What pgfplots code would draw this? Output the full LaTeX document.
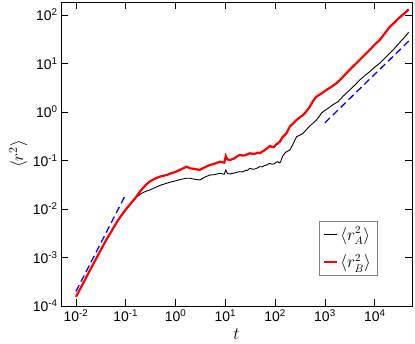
\documentclass[border=0pt]{standalone}
\usepackage{pgfplots}
\pgfplotsset{compat=1.18}
\usepackage{fontspec}
\setmainfont{Liberation Sans}

\begin{document}
\begin{tikzpicture}
\begin{axis}[
    scale only axis,
    width=351bp,
    height=304bp,
    xmode=log, ymode=log,
    log basis x=10, log basis y=10,
    xmin=0.005, xmax=56000,
    ymin=1e-4, ymax=185,
    xtick={0.01,0.1,1,10,100,1000,10000},
    ytick={1e-4,1e-3,1e-2,1e-1,1,10,100},
    xticklabel={10\textsuperscript{\pgfmathprintnumber[fixed,precision=0,assume math mode=true]{\tick}}},
    yticklabel={10\textsuperscript{\pgfmathprintnumber[fixed,precision=0,assume math mode=true]{\tick}}},
    tick label style={font=\fontsize{14}{16}\selectfont},
    major tick length=7bp,
    minor tick length=3.5bp,
    tick style={black, line width=0.8pt},
    axis line style={line width=0.8pt},
    xlabel={$t$},
    ylabel={$\langle r^2\rangle$},
    xlabel style={font=\fontsize{17}{19}\selectfont, at={(axis description cs:0.5,-0.094)}, anchor=center},
    ylabel style={font=\fontsize{17}{19}\selectfont, at={(axis description cs:-0.122,0.5)}, anchor=center},
    legend style={at={(0.9,0.1)}, anchor=south east, draw=gray,
        font=\fontsize{16}{18}\selectfont, inner sep=4bp, row sep=9bp},
    legend image code/.code={\draw[#1] (0bp,0bp) -- (13bp,0bp);},
    legend cell align=left,
]
% A
\addplot[black, line width=0.9pt] coordinates {
(0.01,1.55e-4) (0.015,3.4e-4) (0.02,6.0e-4) (0.03,1.3e-3) (0.04,2.25e-3)
(0.05,3.3e-3) (0.07,5.9e-3) (0.1,9.8e-3) (0.13,0.0135) (0.165,0.0175)
(0.2,0.0205) (0.25,0.023) (0.305,0.0247) (0.4,0.028) (0.5,0.031)
(0.66,0.0339) (0.8,0.036) (1.0,0.038) (1.3,0.041) (1.66,0.043)
(1.94,0.043) (2.4,0.041) (3.07,0.0396) (3.8,0.045) (4.88,0.0502)
(6,0.051) (7.74,0.0544) (9.5,0.052) (10.2,0.0637) (11,0.054)
(12.3,0.0527) (15,0.055) (17,0.057) (19.5,0.0588) (22,0.058) (25,0.062)
(28,0.063) (31,0.069) (35,0.066) (40,0.067) (45,0.071) (49,0.0745)
(55,0.074) (60,0.078) (70,0.082) (78,0.0874) (86,0.084) (95,0.085)
(105,0.092) (114,0.0944) (120,0.089) (128,0.092) (140,0.12) (155,0.14)
(169,0.152) (197,0.164) (230,0.22) (269,0.31) (310,0.33) (365,0.364)
(430,0.44) (500,0.52) (580,0.59) (676,0.684) (760,0.8) (850,0.95)
(1000,1.08) (1150,1.19) (1400,1.38) (1830,1.63) (2300,2.1) (3150,2.84)
(4000,3.6) (5000,4.57) (6300,5.6) (7940,6.8) (10000,8.4) (12600,10.1)
(16000,12.9) (20000,16.2) (25000,20.5) (31600,27) (38000,33) (48000,44)
};
\addlegendentry{$\langle r_A^2\rangle$}
% B
\addplot[red, line width=2.2pt] coordinates {
(0.01,1.55e-4) (0.015,3.4e-4) (0.02,6.0e-4) (0.03,1.3e-3) (0.04,2.25e-3)
(0.05,3.3e-3) (0.07,5.9e-3) (0.1,9.8e-3) (0.13,0.0135) (0.16,0.0175)
(0.2,0.024) (0.25,0.031) (0.3,0.0366) (0.4,0.043) (0.5,0.047)
(0.66,0.050) (0.8,0.054) (1.0,0.058) (1.3,0.066) (1.66,0.0745)
(1.94,0.069) (2.4,0.067) (3.07,0.0637) (3.8,0.072) (4.88,0.0807)
(6,0.085) (7.74,0.0944) (9.5,0.09) (10.2,0.124) (11,0.105)
(12.3,0.102) (15,0.11) (17,0.121) (19.5,0.13) (22,0.126) (25,0.128)
(28,0.135) (31,0.141) (35,0.137) (40,0.138) (45,0.145) (49,0.141)
(55,0.152) (60,0.16) (70,0.18) (78,0.199) (86,0.19) (95,0.19)
(105,0.215) (114,0.226) (124,0.244) (140,0.3) (169,0.364) (197,0.50)
(230,0.58) (269,0.684) (310,0.77) (365,0.867) (430,1.05) (500,1.3)
(580,1.7) (676,2.07) (850,2.4) (1070,2.84) (1350,3.3) (1700,3.9)
(2100,4.8) (2700,6.3) (3500,8.3) (4620,10.9) (6000,14.3) (7940,19)
(10000,24.5) (12600,30.5) (16000,42) (20000,57) (25000,70) (30000,85)
(38000,104) (48000,130)
};
\addlegendentry{$\langle r_B^2\rangle$}
% guide lines
\addplot[blue, line width=1.3pt, dash pattern=on 7bp off 4bp, forget plot] coordinates {
(0.01,2e-4) (0.1,2e-2)
};
\addplot[blue, line width=1.3pt, dash pattern=on 7bp off 4bp, forget plot] coordinates {
(1000,0.6) (50000,30)
};
\end{axis}
\pgfresetboundingbox
\useasboundingbox (-61bp,-38bp) rectangle (354bp,306bp);
\end{tikzpicture}
\end{document}
